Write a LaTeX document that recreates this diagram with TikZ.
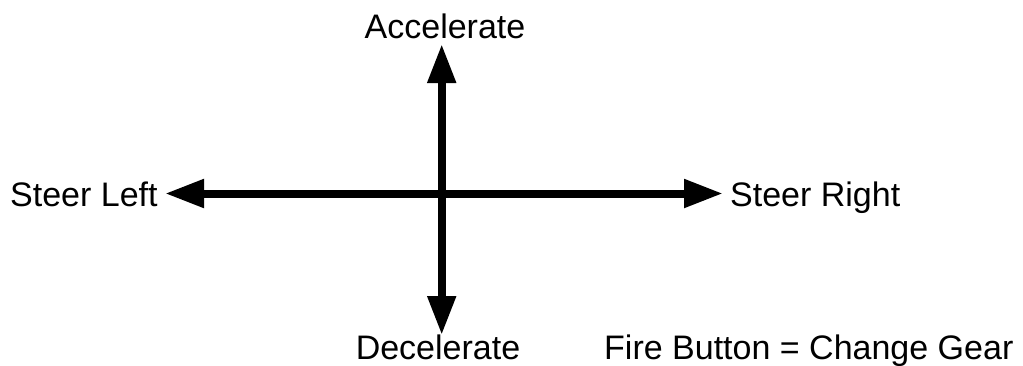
\documentclass[tikz,border=0pt]{standalone}
\usepackage{fontspec}
\setmainfont{Liberation Sans}
\usetikzlibrary{arrows.meta}
\begin{document}
\begin{tikzpicture}[x=1pt,y=-1pt,
  lbl/.style={inner sep=0pt,font=\fontsize{34}{40}\selectfont},
  dirarrow/.style={line width=8pt,{Triangle[length=39pt,width=27pt]}-{Triangle[length=39pt,width=27pt]}}]
\useasboundingbox (0,0) rectangle (1023,365);
\node[lbl,anchor=base] (acc) at (445,38.5) {Accelerate};
\node[lbl,anchor=base] (dec) at (438,359) {Decelerate};
\node[lbl,anchor=base west] (sl) at (10,206) {Steer Left};
\node[lbl,anchor=base west] (sr) at (730,206) {Steer Right};
\node[lbl,anchor=base west] (fire) at (604,359) {Fire Button = Change Gear};
\coordinate (top) at (441.7,44);
\coordinate (bot) at (441.7,335);
\coordinate (lft) at (165,193.5);
\coordinate (rgt) at (723,193.5);
\draw[dirarrow] (lft) -- (rgt);
\draw[dirarrow] (top) -- (bot);
\end{tikzpicture}
\end{document}
